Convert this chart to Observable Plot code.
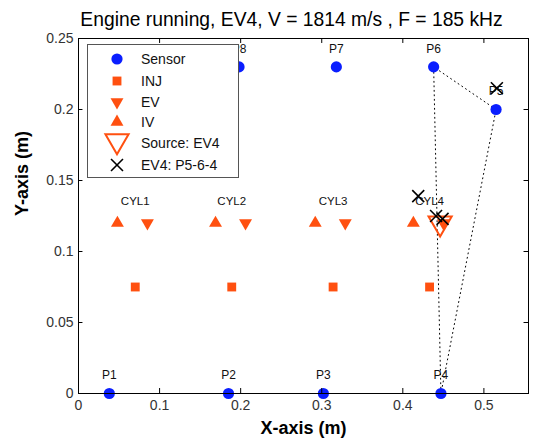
<!DOCTYPE html>
<html>
<head>
<meta charset="utf-8">
<script src="https://cdn.jsdelivr.net/npm/d3@7"></script>
<script src="https://cdn.jsdelivr.net/npm/@observablehq/plot@0.6"></script>
<style>
  body { margin: 0; background: #fff; font-family: "Liberation Sans", Arial, sans-serif; }
  #wrap { position: relative; width: 536px; height: 438px; }
</style>
</head>
<body>
<div id="wrap"></div>
<script>
// ---- data ----
const sensorNames = ["P1", "P2", "P3", "P4", "P5", "P6", "P7", "P8", "P9"];
const sensorX = [0.038, 0.185, 0.302, 0.447, 0.515, 0.438, 0.318, 0.198, 0.072];
const sensorY = [0, 0, 0, 0, 0.2, 0.23, 0.23, 0.23, 0.23];

const cylNames = ["CYL1", "CYL2", "CYL3", "CYL4"];
const injX = [0.070, 0.189, 0.314, 0.433];
const injY = 0.075;
const ivX = [0.048, 0.169, 0.292, 0.413];
const evX = [0.085, 0.206, 0.329, 0.450];
const valveY = 0.12;
const cylLabelY = 0.135;

const sourceX = [0.446];
const sourceY = [0.12];

const estX = [0.419, 0.441, 0.449, 0.516];
const estY = [0.139, 0.125, 0.123, 0.215];

const pathSensors = ["P5", "P6", "P4", "P5"];

const title = "Engine running, EV4, V = 1814 m/s , F = 185 kHz";
const xTicks = [0, 0.1, 0.2, 0.3, 0.4, 0.5];
const yTicks = [0, 0.05, 0.1, 0.15, 0.2, 0.25];
const legendLabels = ["Sensor", "INJ", "EV", "IV", "Source: EV4", "EV4: P5-6-4"];

// ---- derived tables ----
const sensors = sensorNames.map((n, i) => ({name: n, x: sensorX[i], y: sensorY[i]}));
const sensorByName = Object.fromEntries(sensors.map(s => [s.name, s]));
const path = pathSensors.map(n => sensorByName[n]);
const inj = injX.map((x, i) => ({x, y: injY, name: cylNames[i]}));
const iv = ivX.map(x => ({x, y: valveY}));
const ev = evX.map(x => ({x, y: valveY}));
const src = sourceX.map((x, i) => ({x, y: sourceY[i]}));
const est = estX.map((x, i) => ({x, y: estY[i]}));

const ORANGE = "#ff5010";
const BLUE = "#0a1eff";
const FONT = "Liberation Sans, Arial, sans-serif";
const fmt = d => d === 0 ? "0" : String(+d.toFixed(3));
const XMAX = 0.555, YMAX = 0.25;

const chart = Plot.plot({
  width: 536,
  height: 438,
  marginLeft: 78,
  marginRight: 8,
  marginTop: 38,
  marginBottom: 45,
  style: {fontFamily: FONT, fontSize: "14px", color: "#222", background: "#fff"},
  x: {domain: [0, XMAX]},
  y: {domain: [0, YMAX]},
  marks: [
    Plot.line(path, {x: "x", y: "y", stroke: "#000", strokeWidth: 1, strokeDasharray: "1,3.5"}),
    Plot.dot(sensors, {x: "x", y: "y", r: 5.6, fill: BLUE, stroke: "none"}),
    Plot.text(sensors, {x: "x", y: "y", text: "name", dy: -18, fontSize: 12, fill: "#111"}),
    Plot.dot(inj, {x: "x", y: "y", symbol: "square", r: 5, fill: ORANGE, stroke: "none"}),
    Plot.dot(iv, {x: "x", y: "y", symbol: "triangle", r: 4.8, fill: ORANGE, stroke: "none"}),
    Plot.dot(ev, {x: "x", y: "y", symbol: "triangle", rotate: 180, r: 4.8, fill: ORANGE, stroke: "none"}),
    Plot.text(inj, {x: "x", y: () => cylLabelY, text: "name", fontSize: 11.5, fill: "#111"}),
    Plot.dot(src, {x: "x", y: "y", symbol: "triangle", rotate: 180, r: 8.6, fill: "none", stroke: ORANGE, strokeWidth: 2}),
    Plot.dot(est, {x: "x", y: "y", symbol: "times", r: 5.5, stroke: "#000", strokeWidth: 1.6}),
    Plot.frame({stroke: "#000", strokeWidth: 1}),
    Plot.axisX({ticks: xTicks, tickSize: 0, tickPadding: 7, tickFormat: fmt, fontSize: 14, fill: "#333", label: null}),
    Plot.axisY({ticks: yTicks, tickSize: 0, tickPadding: 5, tickFormat: fmt, fontSize: 14, fill: "#333", label: null}),
    Plot.ruleX(xTicks, {x: d => d, y1: 0, y2: 0.0035, stroke: "#000"}),
    Plot.ruleX(xTicks, {x: d => d, y1: YMAX, y2: YMAX - 0.0035, stroke: "#000"}),
    Plot.ruleY(yTicks, {y: d => d, x1: 0, x2: 0.0055, stroke: "#000"}),
    Plot.ruleY(yTicks, {y: d => d, x1: XMAX, x2: XMAX - 0.0055, stroke: "#000"}),
    Plot.text([title], {frameAnchor: "top", lineAnchor: "middle", dx: -12, dy: -19, text: d => d, fontSize: 19.3, fill: "#000"}),
    Plot.text(["X-axis (m)"], {frameAnchor: "bottom", lineAnchor: "middle", dy: 35, text: d => d, fontSize: 18, fontWeight: "bold", fill: "#000"}),
    Plot.text(["Y-axis (m)"], {frameAnchor: "left", dx: -56, rotate: -90, text: d => d, fontSize: 18, fontWeight: "bold", fill: "#000"})
  ]
});

const wrap = document.getElementById("wrap");
wrap.appendChild(chart);

// ---- legend overlay ----
const lw = 152, lh = 134;
const leg = d3.create("svg").attr("id", "legend").attr("width", lw).attr("height", lh)
  .style("position", "absolute").style("left", "87px").style("top", "44px");
leg.append("rect").attr("x", 0.5).attr("y", 0.5).attr("width", lw - 1).attr("height", lh - 1)
  .attr("fill", "#fff").attr("stroke", "#555").attr("stroke-width", 1);
const rowY = [15, 37, 58, 78, 99, 121];
const sx = 30;
const sym = (type, size) => d3.symbol().type(type).size(size)();
const g = leg.append("g");
g.append("path").attr("d", sym(d3.symbolCircle, Math.PI * 5.6 * 5.6)).attr("transform", `translate(${sx},${rowY[0]})`).attr("fill", BLUE);
g.append("path").attr("d", sym(d3.symbolSquare, Math.PI * 5 * 5)).attr("transform", `translate(${sx},${rowY[1]})`).attr("fill", ORANGE);
g.append("path").attr("d", sym(d3.symbolTriangle, Math.PI * 4.8 * 4.8)).attr("transform", `translate(${sx},${rowY[2]}) rotate(180)`).attr("fill", ORANGE);
g.append("path").attr("d", sym(d3.symbolTriangle, Math.PI * 4.8 * 4.8)).attr("transform", `translate(${sx},${rowY[3]})`).attr("fill", ORANGE);
g.append("path").attr("d", sym(d3.symbolTriangle, Math.PI * 8.6 * 8.6)).attr("transform", `translate(${sx},${rowY[4] - 2}) rotate(180)`).attr("fill", "none").attr("stroke", ORANGE).attr("stroke-width", 2);
g.append("path").attr("d", sym(d3.symbolTimes, Math.PI * 5.5 * 5.5)).attr("transform", `translate(${sx},${rowY[5]})`).attr("fill", "none").attr("stroke", "#000").attr("stroke-width", 1.6);
legendLabels.forEach((t, i) => {
  leg.append("text").attr("x", 54).attr("y", rowY[i]).attr("dy", "0.35em")
    .attr("font-family", FONT).attr("font-size", 14).attr("fill", "#111").text(t);
});
wrap.appendChild(leg.node());
</script>
</body>
</html>
